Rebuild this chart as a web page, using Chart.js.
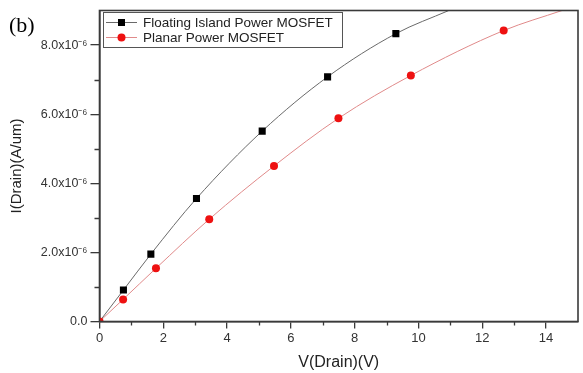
<!DOCTYPE html>
<html>
<head>
<meta charset="utf-8">
<script src="https://cdn.jsdelivr.net/npm/chart.js@4.4.1/dist/chart.umd.min.js"></script>
<style>
  html, body { margin: 0; padding: 0; background: #fff; }
  #wrap { width: 583px; height: 373px; position: relative; }
</style>
</head>
<body>
<div id="wrap"><canvas id="c" width="583" height="373"></canvas></div>
<script>
// ---- data ----
const seriesNames = ['Floating Island Power MOSFET', 'Planar Power MOSFET'];
// Floating island (black squares); last point is the line leaving the plot top (no marker)
const floatV = [0, 0.75, 1.61, 3.04, 5.10, 7.15, 9.29, 10.95];
const floatI = [0, 0.91e-6, 1.95e-6, 3.56e-6, 5.51e-6, 7.08e-6, 8.33e-6, 9.0e-6];
const floatMarker = [1, 1, 1, 1, 1, 1, 1, 0];
// Planar (red circles)
const planarV = [0, 0.74, 1.77, 3.44, 5.47, 7.49, 9.76, 12.67, 14.5];
const planarI = [0, 0.64e-6, 1.54e-6, 2.96e-6, 4.50e-6, 5.88e-6, 7.12e-6, 8.42e-6, 9.0e-6];
const planarMarker = [1, 1, 1, 1, 1, 1, 1, 1, 0];
// axes
const xTicks = [0, 2, 4, 6, 8, 10, 12, 14];
const xMinorTicks = [1, 3, 5, 7, 9, 11, 13];
const yTicks = [0, 2e-6, 4e-6, 6e-6, 8e-6];
const yTickLabels = ['0.0', '2.0x10\u207B\u2076', '4.0x10\u207B\u2076', '6.0x10\u207B\u2076', '8.0x10\u207B\u2076'];
const yMinorTicks = [1e-6, 3e-6, 5e-6, 7e-6];
const xRange = [0, 15];
const yRange = [0, 9.0e-6];
const xTitle = 'V(Drain)(V)';
const yTitle = 'I(Drain)(A/um)';
const panelLabel = '(b)';

const AXIS = '#3a3a3a';
const BLACK_LINE = '#6a6a6a';
const RED_LINE = '#e08a8a';
const RED = '#ee1111';

const toXY = (xs, ys) => xs.map((x, i) => ({ x: x, y: ys[i] }));

const framePlugin = {
  id: 'frame',
  afterDatasetsDraw(chart) {
    const { ctx, chartArea: a, scales } = chart;
    ctx.save();
    // minor ticks
    ctx.strokeStyle = AXIS;
    ctx.lineWidth = 1.3;
    ctx.beginPath();
    xMinorTicks.forEach(v => {
      const px = Math.round(scales.x.getPixelForValue(v)) + 0.5;
      ctx.moveTo(px, a.bottom); ctx.lineTo(px, a.bottom + 4);
    });
    yMinorTicks.forEach(v => {
      const py = Math.round(scales.y.getPixelForValue(v)) + 0.5;
      ctx.moveTo(a.left, py); ctx.lineTo(a.left - 5, py);
    });
    ctx.stroke();
    // frame
    ctx.lineWidth = 1.6;
    ctx.strokeRect(a.left, a.top, a.right - a.left, a.bottom - a.top);
    // legend
    const lx = 103, ly = 12, lw = 239, lh = 35;
    ctx.lineWidth = 1;
    ctx.strokeStyle = '#555';
    ctx.fillStyle = '#fff';
    ctx.fillRect(lx, ly, lw, lh);
    ctx.strokeRect(lx + 0.5, ly + 0.5, lw, lh);
    const rows = [
      { y: ly + 10, line: BLACK_LINE, draw: (cx, cy) => { ctx.fillStyle = '#000'; ctx.fillRect(cx - 3.5, cy - 3.5, 7, 7); } },
      { y: ly + 25, line: RED_LINE, draw: (cx, cy) => { ctx.fillStyle = RED; ctx.beginPath(); ctx.arc(cx, cy, 4, 0, Math.PI * 2); ctx.fill(); } }
    ];
    rows.forEach((r, i) => {
      ctx.strokeStyle = r.line;
      ctx.lineWidth = 1;
      ctx.beginPath();
      ctx.moveTo(106, r.y + 0.5); ctx.lineTo(137, r.y + 0.5);
      ctx.stroke();
      r.draw(121.5, r.y + 0.5);
      ctx.fillStyle = '#222';
      ctx.font = '13.5px "Liberation Sans", Arial, sans-serif';
      ctx.textBaseline = 'middle';
      ctx.textAlign = 'left';
      ctx.fillText(seriesNames[i], 143, r.y + 1);
    });
    // panel label
    ctx.fillStyle = '#000';
    ctx.font = '22px "Liberation Serif", "Times New Roman", serif';
    ctx.textBaseline = 'alphabetic';
    ctx.fillText(panelLabel, 9, 32);
    ctx.restore();
  }
};

new Chart(document.getElementById('c'), {
  type: 'scatter',
  data: {
    datasets: [
      {
        label: seriesNames[1],
        data: toXY(planarV, planarI),
        showLine: true,
        borderColor: RED_LINE,
        borderWidth: 1,
        cubicInterpolationMode: 'monotone',
        pointStyle: 'circle',
        pointRadius: planarMarker.map(m => m ? 4 : 0),
        pointBackgroundColor: RED,
        pointBorderColor: RED,
        pointBorderWidth: 0,
        order: 0
      },
      {
        label: seriesNames[0],
        data: toXY(floatV, floatI),
        showLine: true,
        borderColor: BLACK_LINE,
        borderWidth: 1,
        cubicInterpolationMode: 'monotone',
        pointStyle: 'rect',
        pointRadius: floatMarker.map(m => m ? 5 : 0),
        pointBackgroundColor: '#000',
        pointBorderColor: '#000',
        pointBorderWidth: 0,
        order: 1
      }
    ]
  },
  options: {
    responsive: false,
    animation: false,
    devicePixelRatio: 1,
    layout: { padding: { left: 0, right: 5, top: 9, bottom: 0 } },
    plugins: { legend: { display: false }, tooltip: { enabled: false } },
    scales: {
      x: {
        type: 'linear',
        min: xRange[0], max: xRange[1],
        afterBuildTicks: s => { s.ticks = xTicks.map(v => ({ value: v })); },
        afterFit: s => { s.height = 51.5; },
        ticks: { color: '#333', font: { size: 13, family: '"Liberation Sans", Arial, sans-serif' }, padding: 2, maxRotation: 0 },
        grid: { drawOnChartArea: false, tickLength: 7, color: AXIS, lineWidth: 1.3 },
        border: { color: AXIS, width: 1.6 },
        title: { display: true, text: xTitle, color: '#222', font: { size: 16, family: '"Liberation Sans", Arial, sans-serif' }, padding: { top: 0, bottom: 1 } }
      },
      y: {
        type: 'linear',
        min: yRange[0], max: yRange[1],
        afterBuildTicks: s => { s.ticks = yTicks.map(v => ({ value: v })); },
        afterFit: s => { s.width = 99.5; },
        ticks: {
          color: '#333', font: { size: 12.5, family: '"Liberation Sans", Arial, sans-serif' }, padding: 3,
          callback: (v) => { const i = yTicks.findIndex(t => Math.abs(t - v) < 1e-12); return i >= 0 ? yTickLabels[i] : ''; }
        },
        grid: { drawOnChartArea: false, tickLength: 9, color: AXIS, lineWidth: 1.3 },
        border: { color: AXIS, width: 1.6 },
        title: { display: true, text: yTitle, color: '#222', font: { size: 15, family: '"Liberation Sans", Arial, sans-serif' }, padding: { top: 8, bottom: 0 } }
      }
    }
  },
  plugins: [framePlugin]
});
</script>
</body>
</html>
